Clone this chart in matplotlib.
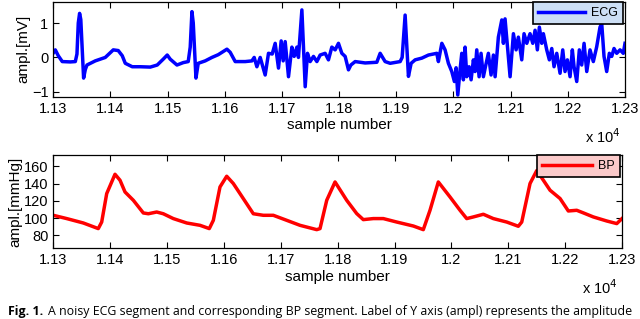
import numpy as np
import matplotlib
matplotlib.use("Agg")
import matplotlib.pyplot as plt

plt.rcParams['font.family'] = ['Liberation Sans', 'DejaVu Sans']

# ECG trace (sample number, mV)
ecg_x = [11300, 11303.5, 11308.7, 11315.7, 11329.7, 11338.5, 11341.4, 11343.7, 11346, 11348.1,
         11350.7, 11353, 11356, 11358.9, 11373.4, 11390.9, 11404.9, 11413.6, 11420.6, 11425.9,
         11438.1, 11452.1, 11469.6, 11481.8, 11492.3, 11499.3, 11504.5, 11516.3, 11527.3, 11536,
         11539.5, 11542.5, 11544.8, 11549.5, 11553.5, 11565.7, 11577.4, 11588.5, 11603.7, 11609.4,
         11618.2, 11635.7, 11647.4, 11651.4, 11656.1, 11661.9, 11670.6, 11676.4, 11682.9, 11688.1,
         11693.9, 11698.6, 11702.1, 11705.6, 11711.4, 11717.3, 11721.3, 11726.1, 11728.8, 11734.8,
         11740.6, 11744.6, 11749.3, 11755.1, 11761, 11766.8, 11775.5, 11781.3, 11787.2, 11793,
         11798.8, 11804.7, 11810.5, 11816.3, 11820.5, 11828, 11845.5, 11865.9, 11871.7, 11880.4,
         11889.2, 11906.7, 11910.2, 11915.4, 11921.2, 11925.9, 11932.9, 11944.6, 11956.2, 11970.8,
         11973.6, 11979.6, 11985.3, 11991.1, 11997, 12001.6, 12004.6, 12007.5, 12011.5, 12014.5,
         12017.3, 12020.3, 12023.2, 12027.3, 12030.8, 12034.8, 12037.8, 12040.7, 12044.8, 12048.2,
         12052.3, 12056.5, 12061, 12065.7, 12069.8, 12072.8, 12078.5, 12084.5, 12087.3, 12090.2,
         12094.9, 12099, 12104.8, 12109.5, 12113.5, 12119.4, 12123.4, 12128.2, 12133.9, 12138.7,
         12142.7, 12146.7, 12150.2, 12154.4, 12157.2, 12163.1, 12167.7, 12171.9, 12175.9, 12180.6,
         12186.4, 12191.1, 12195.1, 12199.2, 12203.9, 12207.9, 12210.9, 12215.6, 12220.1, 12224.3,
         12228.4, 12233.1, 12238.8, 12244.6, 12250.5, 12256.3, 12259.3, 12263.3, 12268, 12272.6,
         12276.8, 12280.8, 12285.5, 12291.3, 12297, 12300]
ecg_y = [0.13, 0.22, 0.05, -0.12, -0.13, -0.12, 0.1, 1.0, 1.28, 1.1,
         0.2, -0.6, -0.35, -0.22, -0.1, 0.0, 0.22, 0.2, 0.05, -0.17,
         -0.27, -0.27, -0.28, -0.22, -0.05, 0.07, -0.05, -0.22, -0.15, -0.12,
         0.3, 1.33, 1.0, -0.6, -0.17, -0.1, 0.0, 0.08, 0.24, 0.15,
         -0.12, -0.12, -0.1, 0.0, -0.27, 0.0, -0.51, 0.12, 0.1, 0.41,
         -0.31, 0.48, -0.1, 0.46, -0.56, 0.3, 0.03, 0.3, 0.0, 1.38,
         -0.85, 0.12, -0.12, 0.03, -0.12, 0.07, 0.12, -0.07, 0.3, 0.22,
         0.41, 0.12, 0.03, -0.36, -0.22, -0.12, -0.16, -0.14, 0.12, -0.12,
         -0.17, -0.12, 0.0, 1.23, -0.55, -0.17, -0.07, -0.02, 0.07, 0.12,
         -0.12, 0.41, 0.22, -0.17, -0.41, -0.7, -0.3, -1.09, -0.36, 0.12,
         -0.65, 0.3, -0.56, -0.27, -0.65, -0.07, -0.41, 0.22, -0.56, 0.12,
         -0.56, -0.22, 0.12, -0.51, 0.07, -0.56, 0.59, 1.09, 0.41, 1.12,
         0.22, -0.56, 0.69, 0.22, 0.59, -0.07, 0.69, 0.41, 0.69, 0.41,
         0.79, 0.22, 0.88, 0.41, 0.69, 0.22, -0.07, 0.26, -0.27, 0.12,
         -0.46, 0.22, -0.41, -0.07, -0.56, 0.22, -0.27, -0.7, 0.22, -0.22,
         0.41, -0.41, 0.22, -0.12, 0.31, 0.88, 0.98, 0.03, -0.41, 0.12,
         0.03, 0.26, 0.12, 0.22, 0.12, 0.41]

# BP trace (sample number, mmHg)
bp_x = [11300, 11323.6, 11352.8, 11379.1, 11385.1, 11393.9, 11408.5, 11417.3, 11426.1, 11440.7,
        11458.3, 11467.1, 11481.8, 11493.4, 11511, 11534.6, 11558, 11574.3, 11581.4, 11593.1,
        11604.9, 11616.5, 11628.3, 11651.7, 11669.3, 11686.9, 11710.4, 11733.8, 11763.2, 11769,
        11780.8, 11795.4, 11815.9, 11833.5, 11845.1, 11862.7, 11880.3, 11903.9, 11933.1, 11950.6,
        11962.4, 11977, 11997.6, 12015.2, 12026.9, 12038.6, 12056.2, 12073.7, 12097.3, 12117.7,
        12123.7, 12138.3, 12150.1, 12161.7, 12173.5, 12191.1, 12205.6, 12220.4, 12232, 12249.6,
        12273.2, 12290.8, 12300]
bp_y = [103.2, 99.4, 94.3, 87.8, 95.4, 128.3, 150.7, 143.8, 130.2, 120.6,
        105.9, 105, 107, 105, 99.4, 94.3, 91.6, 87.8, 97.4, 136,
        148.4, 140, 128.3, 105, 103.2, 103.2, 97.4, 91.6, 86.6, 87.8,
        120.6, 141.8, 120.6, 105.2, 98.2, 99.4, 99.4, 95.4, 90.8, 86.6,
        109, 141.8, 124.4, 109, 99.4, 101.3, 104.4, 99.4, 95.4, 90.5,
        95.4, 140, 155, 143.8, 132.2, 122.6, 108.2, 109, 106, 101.3,
        96.6, 93.6, 99.4]

xticks = [11300 + 100 * i for i in range(11)]
xlabels = ['1.13', '1.14', '1.15', '1.16', '1.17', '1.18', '1.19', '1.2', '1.21', '1.22', '1.23']

fig = plt.figure(figsize=(6.4, 3.19), dpi=100)
W, H = 640, 319


def px_axes(l, t, r, b):
    return fig.add_axes([l / W, 1 - b / H, (r - l) / W, (b - t) / H])


def style(ax, ylab):
    ax.set_xlim(11300, 12300)
    ax.set_xticks(xticks)
    ax.set_xticklabels(xlabels)
    ax.tick_params(direction='in', top=True, right=True, labelsize=10.5, length=4, width=0.8, pad=3.5)
    for s in ax.spines.values():
        s.set_linewidth(0.9)
    ax.set_xlabel('sample number', fontsize=11, labelpad=2)
    ax.set_ylabel(ylab, fontsize=11, labelpad=1)
    ax.text(0.993, -0.42, r'x 10$^{4}$', transform=ax.transAxes, ha='right', va='center', fontsize=10.5)


def add_legend(ax, face, hl, inset):
    leg = ax.legend(loc='upper right', bbox_to_anchor=(1 - inset, 1), fontsize=9, frameon=True,
                    fancybox=False, handlelength=hl, borderaxespad=0.0, borderpad=0.4,
                    handletextpad=0.5)
    fr = leg.get_frame()
    fr.set_facecolor(face)
    fr.set_edgecolor('black')
    fr.set_linewidth(1.2)
    fr.set_alpha(1)


ax1 = px_axes(53.3, 2, 625, 96.7)
ax1.plot(ecg_x, ecg_y, color='#0000ff', lw=2.5, label='ECG')
ax1.set_ylim(-1.14, 1.61)
ax1.set_yticks([-1, 0, 1])
style(ax1, 'ampl.[mV]')
add_legend(ax1, '#cddff5', 3.75, 2 / 572)

ax2 = px_axes(53.3, 155, 622, 248.3)
ax2.plot(bp_x, bp_y, color='#ff0000', lw=2.5, label='BP')
ax2.set_ylim(65, 173)
ax2.set_yticks([80, 100, 120, 140, 160])
style(ax2, 'ampl.[mmHg]')
add_legend(ax2, '#fbcaca', 4.0, 2 / 569)

# caption at the lower edge
fig.canvas.draw()
cap_y = 1 - 315.5 / H
t1 = fig.text(8 / W, cap_y, 'Fig. 1.', fontsize=8.9, fontweight='bold', family='Open Sans', va='baseline')
bb = t1.get_window_extent(fig.canvas.get_renderer())
fig.text(bb.x1 / W + 5 / W, cap_y,
         'A noisy ECG segment and corresponding BP segment. Label of Y axis (ampl) represents the amplitude',
         fontsize=8.9, family='Open Sans', va='baseline')

fig.savefig('out.png', dpi=100)
